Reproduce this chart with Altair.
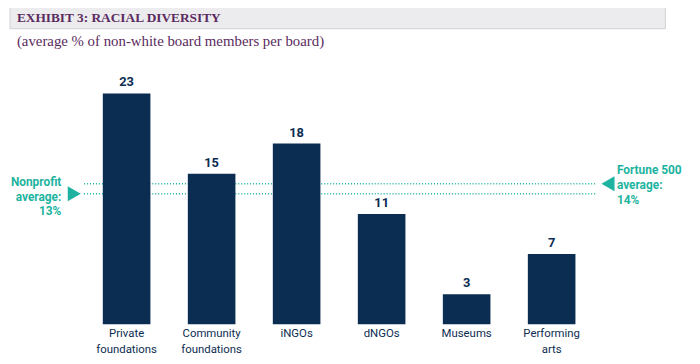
import altair as alt
import pandas as pd

categories = ["Private foundations", "Community foundations", "iNGOs", "dNGOs", "Museums", "Performing arts"]
values = [23, 15, 18, 11, 3, 7]

avg_labels = ["Nonprofit|average:|13%", "Fortune 500|average:|14%"]
avg_values = [13, 14]
avg_side = ["left", "right"]

title_text = "EXHIBIT 3: RACIAL DIVERSITY"
subtitle_text = "(average % of non-white board members per board)"

NAVY = "#0c2d52"
TEAL = "#1db3a0"
PURPLE = "#5b2a60"
FONT = "Roboto"
SERIF = "Liberation Serif"

W, H = 516, 254

bars_df = pd.DataFrame({"category": categories, "value": values})
avg_df = pd.DataFrame({"name": avg_labels, "value": avg_values, "side": avg_side})
title_df = pd.DataFrame({"t": [title_text], "s": [subtitle_text]})

xscale = alt.Scale(domain=categories, paddingInner=0.44, paddingOuter=0.22)
yscale = alt.Scale(domain=[0, 25], nice=False)
XENC = alt.X("category:N", scale=xscale, axis=None, title=None)
YENC = alt.Y("value:Q", scale=yscale, axis=None, title=None)

base = alt.Chart(bars_df).transform_calculate(
    l1="split(datum.category, ' ')[0]",
    l2="length(split(datum.category, ' ')) > 1 ? split(datum.category, ' ')[1] : ''",
)
bars = base.mark_bar(color=NAVY).encode(x=XENC, y=YENC)
bar_text = base.mark_text(font=FONT, fontSize=13, fontWeight="bold", color=NAVY,
                          baseline="bottom", dy=-4).encode(
    x=XENC, y=YENC, text="value:Q")
cat_l1 = base.mark_text(font=FONT, fontSize=11.5, color=NAVY, baseline="middle", dy=10).encode(
    x=XENC, y=alt.value(H), text="l1:N")
cat_l2 = base.mark_text(font=FONT, fontSize=11.5, color=NAVY, baseline="middle", dy=26).encode(
    x=XENC, y=alt.value(H), text="l2:N")

avg_base = alt.Chart(avg_df).transform_calculate(
    a1="split(datum.name, '|')[0]",
    a2="split(datum.name, '|')[1]",
    a3="split(datum.name, '|')[2]",
)
rules = avg_base.mark_rule(color=TEAL, strokeDash=[1, 2], strokeWidth=1.5).encode(
    y=YENC, x=alt.value(0), x2=alt.value(518))

left_df = avg_base.transform_filter("datum.side == 'left'")
right_df = avg_base.transform_filter("datum.side == 'right'")

tri_left = left_df.mark_point(shape="triangle-right", filled=True, color=TEAL,
                              size=230, opacity=1).encode(x=alt.value(-10), y=YENC)
tri_right = right_df.mark_point(shape="triangle-left", filled=True, color=TEAL,
                                size=230, opacity=1).encode(x=alt.value(530), y=YENC)

ann_layers = []
for src, xpos, align, offs in [(left_df, -23, "right", [-11.5, 3, 17.5]),
                               (right_df, 539, "left", [-14, 1, 16])]:
    for field, off in zip(["a1", "a2", "a3"], offs):
        ann_layers.append(src.mark_text(font=FONT, fontSize=12, fontWeight="bold", color=TEAL,
                                        align=align, baseline="middle", dy=off).encode(
            x=alt.value(xpos), y=YENC, text=f"{field}:N"))

tbase = alt.Chart(title_df)
title_border = tbase.mark_rule(color="#d2d2d6", strokeWidth=25).encode(
    x=alt.value(-75.5), x2=alt.value(588.5), y=alt.value(-57))
title_fill = tbase.mark_rule(color="#ececee", strokeWidth=23).encode(
    x=alt.value(-74.5), x2=alt.value(587.5), y=alt.value(-57))
title = tbase.mark_text(font=SERIF, fontSize=13.5, fontWeight="bold", color=PURPLE,
                        align="left", baseline="middle").encode(
    x=alt.value(-68), y=alt.value(-56), text="t:N")
subtitle = tbase.mark_text(font=SERIF, fontSize=15, color=PURPLE,
                           align="left", baseline="middle").encode(
    x=alt.value(-68), y=alt.value(-33), text="s:N")

chart = alt.layer(title_border, title_fill, title, subtitle, rules, bars, bar_text,
                  cat_l1, cat_l2, tri_left, tri_right, *ann_layers).properties(
    width=W, height=H,
    autosize=alt.AutoSizeParams(type="none"),
    padding={"left": 77, "top": 64, "right": 99, "bottom": 34},
    background="white",
).configure_view(stroke=None).configure_axis(disable=True)

chart.save("out.html", embed_options={"renderer": "svg", "actions": False})
